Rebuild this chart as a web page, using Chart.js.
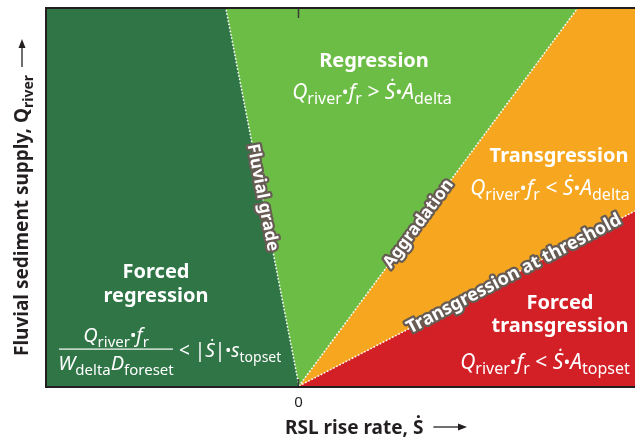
<!DOCTYPE html>
<html>
<head>
<meta charset="utf-8">
<script src="https://cdn.jsdelivr.net/npm/chart.js@4/dist/chart.umd.min.js"></script>
<style>
  body { margin: 0; background: #fff; }
  #wrap { width: 635px; height: 438px; }
</style>
</head>
<body>
<div id="wrap"><canvas id="chart" width="635" height="438"></canvas></div>
<script>
// Axis extents (arbitrary units, origin = zero RSL rise rate)
const xRange = [-2.52, 3.36];
const yRange = [0, 3.77];
const xTicks = [0];

// Regime fields as polygons (corner x / y values)
const regions = ['Forced regression', 'Regression', 'Transgression', 'Forced transgression'];
const regionX = [[-2.52, 0, -0.73, -2.52], [0, 2.78, -0.73], [0, 3.36, 3.36, 2.78], [0, 3.36, 3.36]];
const regionY = [[0, 0, 3.77, 3.77], [0, 3.77, 3.77], [0, 1.75, 3.77, 3.77], [0, 0, 1.75]];
const regionColors = ['#2f7546', '#6cbd45', '#f6a61f', '#d32027'];

// Boundaries between regimes, all starting at the origin
const boundaries = ['Fluvial grade', 'Aggradation', 'Transgression at threshold'];
const boundaryEndX = [-0.73, 2.78, 3.36];
const boundaryEndY = [3.77, 3.77, 1.75];
const boundaryLabelAt = [0.5, 0.43, 0.64]; // fraction along the boundary
const boundaryLabelSize = [17, 17, 18];

const FONT = '"Noto Sans", "DejaVu Sans", sans-serif';

// Rich text pieces: [text, kind]  kind: r regular, i italic, s subscript, m bullet, b bold, bs bold subscript
const regressionEq = [['Q', 'i'], ['river', 's'], ['•', 'm'], ['f', 'i'], ['r', 's'], [' > ', 'r'], ['Ṡ', 'i'], ['•', 'm'], ['A', 'i'], ['delta', 's']];
const transgressionEq = [['Q', 'i'], ['river', 's'], ['•', 'm'], ['f', 'i'], ['r', 's'], [' < ', 'r'], ['Ṡ', 'i'], ['•', 'm'], ['A', 'i'], ['delta', 's']];
const forcedTransEq = [['Q', 'i'], ['river', 's'], ['•', 'm'], ['f', 'i'], ['r', 's'], [' < ', 'r'], ['Ṡ', 'i'], ['•', 'm'], ['A', 'i'], ['topset', 's']];
const fracTop = [['Q', 'i'], ['river', 's'], ['•', 'm'], ['f', 'i'], ['r', 's']];
const fracBottom = [['W', 'i'], ['delta', 's'], ['D', 'i'], ['foreset', 's']];
const fracRight = [[' < |', 'r'], ['Ṡ', 'i'], ['|', 'r'], ['•', 'm'], ['s', 'i'], ['topset', 's']];

function partFont(kind, size) {
  if (kind === 's') return Math.round(size * 0.74) + 'px ' + FONT;
  if (kind === 'bs') return 'bold ' + Math.round(size * 0.74) + 'px ' + FONT;
  if (kind === 'i') return 'italic ' + size + 'px ' + FONT;
  if (kind === 'm') return Math.round(size * 0.85) + 'px ' + FONT;
  if (kind === 'b') return 'bold ' + size + 'px ' + FONT;
  return size + 'px ' + FONT;
}

function richWidth(ctx, parts, size) {
  let w = 0;
  parts.forEach(([t, k]) => {
    ctx.font = partFont(k, size);
    w += ctx.measureText(t).width;
  });
  return w;
}

function drawRich(ctx, parts, x, y, size, align) {
  const w = richWidth(ctx, parts, size);
  let cx = align === 'center' ? x - w / 2 : x;
  ctx.textAlign = 'left';
  ctx.textBaseline = 'alphabetic';
  parts.forEach(([t, k]) => {
    ctx.font = partFont(k, size);
    let dy = 0;
    if (k === 's' || k === 'bs') dy = size * 0.25;
    if (k === 'm') dy = -size * 0.05;
    ctx.fillText(t, cx, y + dy);
    cx += ctx.measureText(t).width;
  });
  return w;
}

function drawAlong(ctx, text, x, y, angle, size) {
  ctx.save();
  ctx.translate(x, y);
  ctx.rotate(angle);
  ctx.font = 'bold ' + size + 'px ' + FONT;
  ctx.textAlign = 'center';
  ctx.textBaseline = 'middle';
  ctx.lineJoin = 'round';
  ctx.lineWidth = 4.5;
  ctx.strokeStyle = '#675c54';
  ctx.strokeText(text, 0, 0);
  ctx.fillStyle = '#fff';
  ctx.fillText(text, 0, 0);
  ctx.restore();
}

function arrow(ctx, x1, y1, x2, y2) {
  const a = Math.atan2(y2 - y1, x2 - x1);
  ctx.beginPath();
  ctx.moveTo(x1, y1);
  ctx.lineTo(x2 - 6 * Math.cos(a), y2 - 6 * Math.sin(a));
  ctx.lineWidth = 1.3;
  ctx.stroke();
  ctx.beginPath();
  ctx.moveTo(x2, y2);
  ctx.lineTo(x2 - 9 * Math.cos(a) + 3.5 * Math.sin(a), y2 - 9 * Math.sin(a) - 3.5 * Math.cos(a));
  ctx.lineTo(x2 - 9 * Math.cos(a) - 3.5 * Math.sin(a), y2 - 9 * Math.sin(a) + 3.5 * Math.cos(a));
  ctx.closePath();
  ctx.fill();
}

const decorPlugin = {
  id: 'decor',
  afterDatasetsDraw(chart) {
    const ctx = chart.ctx;
    const xs = chart.scales.x, ys = chart.scales.y;
    const area = chart.chartArea;
    const ox = xs.getPixelForValue(0), oy = ys.getPixelForValue(0);

    // boundary labels
    boundaries.forEach((name, i) => {
      const ex = xs.getPixelForValue(boundaryEndX[i]);
      const ey = ys.getPixelForValue(boundaryEndY[i]);
      let ang = Math.atan2(ey - oy, ex - ox);
      if (ang < -Math.PI / 2) ang += Math.PI;
      const t = boundaryLabelAt[i];
      drawAlong(ctx, name, ox + (ex - ox) * t, oy + (ey - oy) * t, ang, boundaryLabelSize[i]);
    });

    // region titles and conditions
    ctx.fillStyle = '#fff';
    ctx.textAlign = 'center';
    ctx.font = 'bold 20px ' + FONT;
    ctx.fillText('Regression', 374, 67);
    drawRich(ctx, regressionEq, 372, 99, 21, 'center');

    ctx.textAlign = 'center';
    ctx.font = 'bold 20px ' + FONT;
    ctx.fillText('Transgression', 559, 162);
    drawRich(ctx, transgressionEq, 550, 195, 21, 'center');

    ctx.textAlign = 'center';
    ctx.font = 'bold 20px ' + FONT;
    ctx.fillText('Forced', 156, 278);
    ctx.fillText('regression', 156, 302);

    ctx.textAlign = 'center';
    ctx.font = 'bold 20px ' + FONT;
    ctx.fillText('Forced', 560, 309);
    ctx.fillText('transgression', 560, 332);
    drawRich(ctx, forcedTransEq, 545, 369, 21, 'center');

    // fraction inequality
    drawRich(ctx, fracTop, 116, 342, 20, 'center');
    ctx.fillRect(59, 348.5, 114, 1.2);
    drawRich(ctx, fracBottom, 116, 370, 20, 'center');
    drawRich(ctx, fracRight, 174, 357, 19, 'left');

    // frame: top, left, bottom
    ctx.save();
    ctx.strokeStyle = '#231f20';
    ctx.lineWidth = 2;
    ctx.beginPath();
    ctx.moveTo(area.right, area.top - 1);
    ctx.lineTo(area.left - 1, area.top - 1);
    ctx.lineTo(area.left - 1, area.bottom + 1);
    ctx.lineTo(area.right, area.bottom + 1);
    ctx.stroke();

    // inward ticks and tick labels
    ctx.strokeStyle = '#3a3a3a';
    ctx.lineWidth = 1.5;
    xTicks.forEach(v => {
      const px = Math.round(xs.getPixelForValue(v)) - 0.5;
      ctx.beginPath();
      ctx.moveTo(px, area.top);
      ctx.lineTo(px, area.top + 9);
      ctx.moveTo(px, area.bottom);
      ctx.lineTo(px, area.bottom - 7);
      ctx.stroke();
      ctx.fillStyle = '#231f20';
      ctx.font = '15px ' + FONT;
      ctx.textAlign = 'center';
      ctx.textBaseline = 'alphabetic';
      ctx.fillText(String(v), px, 407);
    });

    // x axis title
    ctx.fillStyle = '#231f20';
    ctx.strokeStyle = '#231f20';
    const wx = drawRich(ctx, [['RSL rise rate, ', 'b'], ['Ṡ', 'b']], 285, 434, 19, 'left');
    arrow(ctx, 285 + wx + 10, 427, 467, 427);

    // y axis title (rotated)
    ctx.save();
    ctx.translate(28, 356);
    ctx.rotate(-Math.PI / 2);
    const wy = drawRich(ctx, [['Fluvial sediment supply, Q', 'b'], ['river', 'bs']], 0, 0, 19, 'left');
    arrow(ctx, wy + 8, -6, 317, -6);
    ctx.restore();
    ctx.restore();
  }
};

const datasets = [];
regions.forEach((name, i) => {
  datasets.push({
    label: name,
    data: regionX[i].map((x, j) => ({ x: x, y: regionY[i][j] })),
    showLine: true,
    fill: 'shape',
    backgroundColor: regionColors[i],
    borderColor: regionColors[i],
    borderWidth: 0,
    pointRadius: 0,
    order: 2
  });
});
boundaries.forEach((name, i) => {
  datasets.push({
    label: name,
    data: [{ x: 0, y: 0 }, { x: boundaryEndX[i], y: boundaryEndY[i] }],
    showLine: true,
    fill: false,
    borderColor: '#ffffff',
    borderWidth: 1.6,
    borderDash: [1.5, 2],
    pointRadius: 0,
    order: 1
  });
});

new Chart(document.getElementById('chart'), {
  type: 'scatter',
  data: { datasets: datasets },
  options: {
    responsive: false,
    animation: false,
    layout: { padding: { left: 47, top: 9, right: 0, bottom: 52 } },
    plugins: { legend: { display: false }, tooltip: { enabled: false } },
    scales: {
      x: { type: 'linear', min: xRange[0], max: xRange[1], display: false },
      y: { type: 'linear', min: yRange[0], max: yRange[1], display: false }
    }
  },
  plugins: [decorPlugin]
});
</script>
</body>
</html>
